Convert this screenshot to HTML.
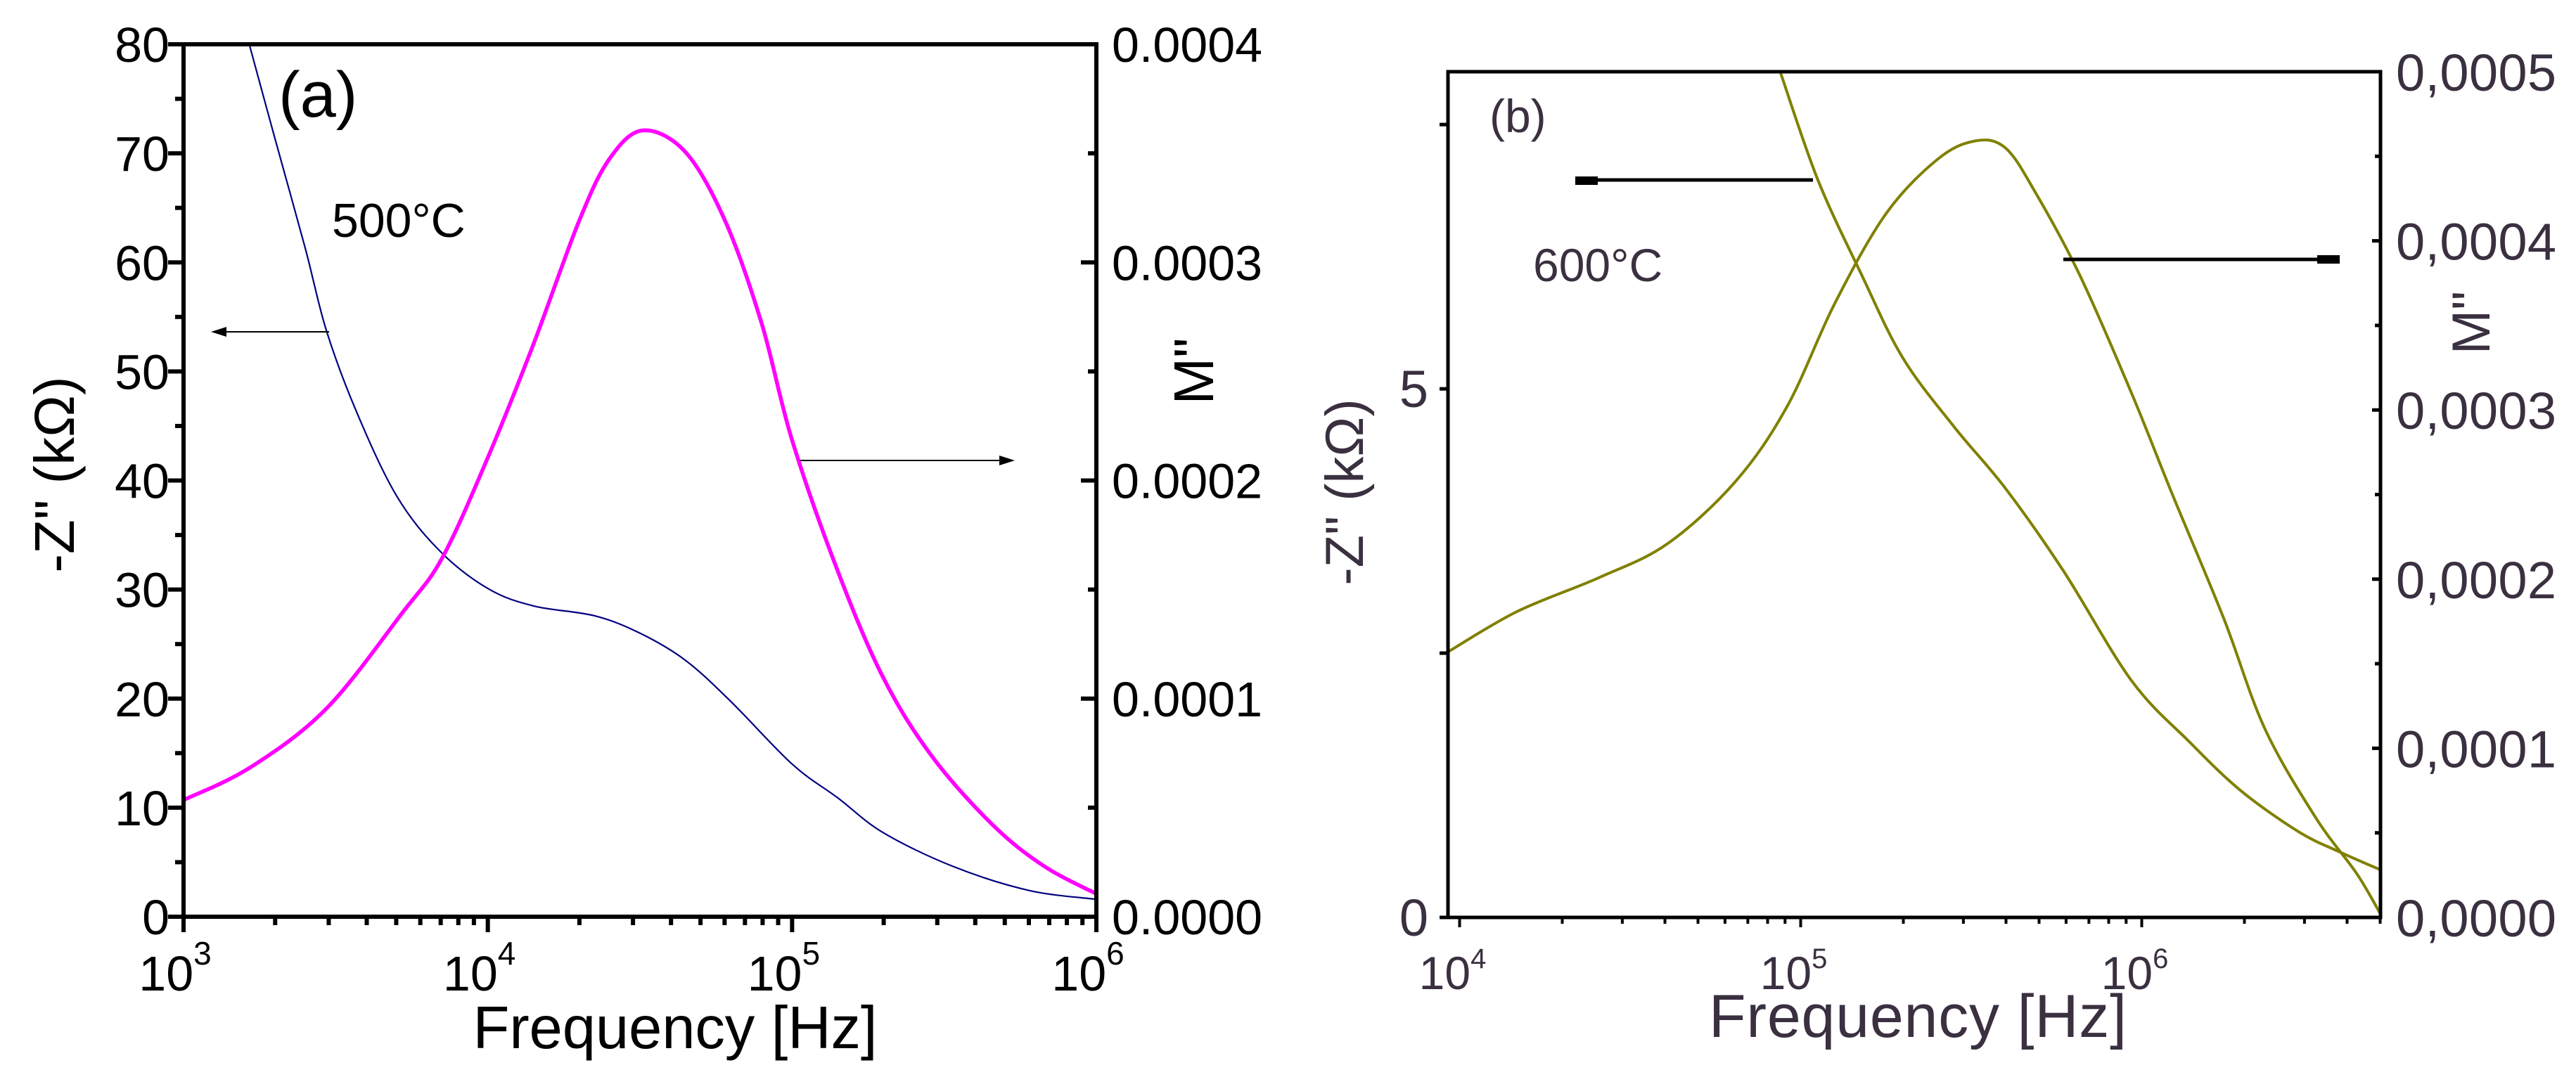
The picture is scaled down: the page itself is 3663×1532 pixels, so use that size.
<!DOCTYPE html>
<html><head><meta charset="utf-8"><style>
html,body{margin:0;padding:0;background:#fff;}
svg{display:block;font-family:"Liberation Sans",sans-serif;}
</style></head><body>
<svg id="fig" width="3663" height="1532" viewBox="0 0 3663 1532">
<g id="pa"></g>
<g id="pb"></g>
</svg>
<script>
// Panel (a) data: log10 frequency and values
const aMLogF = [3.0,3.22,3.47,3.72,3.85,4.0,4.15,4.30,4.40,4.51,4.65,4.78,4.90,5.0,5.15,5.30,5.46,5.66,5.83,6.0];
const aMVal = [0.535,0.685,0.955,1.395,1.645,2.105,2.625,3.19,3.475,3.605,3.505,3.19,2.72,2.185,1.585,1.095,0.735,0.42,0.23,0.105]; // M'' x1e-4
const aZLogF = [3.216,3.30,3.40,3.47,3.57,3.70,3.84,4.0,4.15,4.35,4.50,4.65,4.80,5.0,5.15,5.30,5.53,5.78,6.0];
const aZVal = [80,71.4,61.3,53.7,46.2,38.6,33.6,30.1,28.5,27.6,26.0,23.5,19.7,14.0,10.9,7.7,4.6,2.4,1.6]; // -Z'' kOhm
const aYTicks = [0,10,20,30,40,50,60,70,80];
const aRTicks = ["0.0000","0.0001","0.0002","0.0003","0.0004"];
const aXTicks = [3,4,5,6];
// Panel (b) data
const bMLogF = [3.966,4.17,4.41,4.61,4.81,4.96,5.10,5.25,5.40,5.51,5.60,5.69,5.82,5.97,6.09,6.24,6.36,6.51,6.63,6.70];
const bMVal = [1.57,1.81,2.01,2.21,2.58,3.02,3.63,4.16,4.48,4.59,4.55,4.28,3.79,3.10,2.50,1.77,1.12,0.59,0.26,0.02]; // x1e-4
const bZLogF = [4.94,5.05,5.18,5.30,5.45,5.60,5.77,5.97,6.14,6.29,6.46,6.58,6.70];
const bZVal = [8.0,6.98,6.07,5.29,4.64,4.06,3.28,2.24,1.66,1.20,0.81,0.62,0.45];
const bRTicks = ["0,0000","0,0001","0,0002","0,0003","0,0004","0,0005"];
const bXTicks = [4,5,6];

const NS="http://www.w3.org/2000/svg";
function mk(parent,tag,attrs,text){const e=document.createElementNS(NS,tag);for(const k in attrs)e.setAttribute(k,attrs[k]);if(text!==undefined)e.textContent=text;parent.appendChild(e);return e;}
function smooth(pts){let d="M"+pts[0][0]+","+pts[0][1];for(let i=0;i<pts.length-1;i++){const p0=pts[Math.max(0,i-1)],p1=pts[i],p2=pts[i+1],p3=pts[Math.min(pts.length-1,i+2)];const c1=[p1[0]+(p2[0]-p0[0])/6,p1[1]+(p2[1]-p0[1])/6],c2=[p2[0]-(p3[0]-p1[0])/6,p2[1]-(p3[1]-p1[1])/6];d+=" C"+c1[0]+","+c1[1]+" "+c2[0]+","+c2[1]+" "+p2[0]+","+p2[1];}return d;}

// ---------- Panel A ----------
(function(){
const g=document.getElementById('pa');
const L=261,R=1559,T=63,B=1304;
const x=v=>L+(v-3)/3*(R-L);
const y=v=>B-v/80*(B-T);
const yr=v=>B-v/4*(B-T);
let e;
// curves
e=mk(g,'path',{d:smooth(aZLogF.map((f,i)=>[x(f),y(aZVal[i])])),fill:'none',stroke:'#000080','stroke-width':2.2});


e=mk(g,'path',{d:smooth(aMLogF.map((f,i)=>[x(f),yr(aMVal[i])])),fill:'none',stroke:'#ff00ff','stroke-width':5.5});


// frame
e=mk(g,'rect',{x:L,y:T,width:R-L,height:B-T,fill:'none',stroke:'#000','stroke-width':6});


// left ticks
aYTicks.forEach(v=>{mk(g,'line',{x1:L-22,x2:L,y1:y(v),y2:y(v),stroke:'#000','stroke-width':6});
 if(v<80)mk(g,'line',{x1:L-12,x2:L,y1:y(v+5),y2:y(v+5),stroke:'#000','stroke-width':6});
 const t=mk(g,'text',{x:L-20,y:y(v)+25,'font-size':70,'text-anchor':'end'},String(v));
 
 });
// right ticks
aRTicks.forEach((s,i)=>{mk(g,'line',{x1:R-22,x2:R,y1:yr(i),y2:yr(i),stroke:'#000','stroke-width':6});
 if(i<4)mk(g,'line',{x1:R-12,x2:R,y1:yr(i+0.5),y2:yr(i+0.5),stroke:'#000','stroke-width':6});
 const t=mk(g,'text',{x:R+22,y:yr(i)+25,'font-size':70},s);
 
 });
// bottom ticks
aXTicks.forEach((p,i)=>{mk(g,'line',{x1:x(p),x2:x(p),y1:B,y2:B+22,stroke:'#000','stroke-width':6});
 if(i<aXTicks.length-1)for(let k=2;k<10;k++){const xx=x(p+Math.log10(k));mk(g,'line',{x1:xx,x2:xx,y1:B,y2:B+12,stroke:'#000','stroke-width':6});}
 const t=mk(g,'text',{x:x(p)-12,y:1409,'font-size':70,'text-anchor':'middle'});
 
 
 mk(t,'tspan',{},'10');mk(t,'tspan',{dy:-37,'font-size':46},String(p));});
e=mk(g,'text',{x:960,y:1491,'font-size':85,'text-anchor':'middle',textLength:575},'Frequency [Hz]');


e=mk(g,'text',{x:0,y:0,'font-size':80,'text-anchor':'middle',transform:'translate(105,675) rotate(-90)'},'-Z" (kΩ)');


e=mk(g,'text',{x:0,y:0,'font-size':80,'text-anchor':'middle',transform:'translate(1725,528) rotate(-90)'},'M"');


e=mk(g,'text',{x:396,y:166,'font-size':92},'(a)');


e=mk(g,'text',{x:472,y:337,'font-size':68},'500°C');


// arrows
e=mk(g,'g',{});


mk(e,'line',{x1:468,x2:318,y1:472,y2:472,stroke:'#000','stroke-width':2});
mk(e,'polygon',{points:'300,472 322,465 322,479',fill:'#000'});
e=mk(g,'g',{});


mk(e,'line',{x1:1138,x2:1425,y1:655,y2:655,stroke:'#000','stroke-width':2});
mk(e,'polygon',{points:'1443,655 1421,648 1421,662',fill:'#000'});
})();

// ---------- Panel B ----------
(function(){
const g=document.getElementById('pb');
const L=2059,R=3385,T=102,B=1305;
const lo=3.966,hi=6.70;
const x=v=>L+(v-lo)/(hi-lo)*(R-L);
const y=v=>B-v/8*(B-T);
const yr=v=>B-v/5*(B-T);
const tc='#3a3040';
let e;
e=mk(g,'path',{d:smooth(bZLogF.map((f,i)=>[x(f),y(bZVal[i])])),fill:'none',stroke:'#808000','stroke-width':4});


e=mk(g,'path',{d:smooth(bMLogF.map((f,i)=>[x(f),yr(bMVal[i])])),fill:'none',stroke:'#808000','stroke-width':4});


// white mask above top for clipping
mk(g,'rect',{x:L-10,y:0,width:R-L+20,height:T-2,fill:'#fff'});
e=mk(g,'rect',{x:L,y:T,width:R-L,height:B-T,fill:'none',stroke:'#000','stroke-width':5});


[0,2.5,5,7.5].forEach(v=>{mk(g,'line',{x1:L-12,x2:L,y1:y(v),y2:y(v),stroke:'#000','stroke-width':5});});
[0,5].forEach(v=>{const t=mk(g,'text',{x:L-28,y:y(v)+26,'font-size':74,'text-anchor':'end',fill:tc},String(v));
 
 });
bRTicks.forEach((s,i)=>{mk(g,'line',{x1:R-12,x2:R,y1:yr(i),y2:yr(i),stroke:'#000','stroke-width':5});
 if(i<5)mk(g,'line',{x1:R-8,x2:R,y1:yr(i+0.5),y2:yr(i+0.5),stroke:'#000','stroke-width':5});
 const t=mk(g,'text',{x:R+22,y:yr(i)+27,'font-size':74,fill:tc,textLength:228},s);
 
 });
for(let p=3;p<=6;p++){for(let k=1;k<10;k++){const v=p+Math.log10(k);if(v<lo||v>hi)continue;const xx=x(v);mk(g,'line',{x1:xx,x2:xx,y1:B,y2:B+(k==1?14:9),stroke:'#000','stroke-width':4});}}
bXTicks.forEach(p=>{const t=mk(g,'text',{x:x(p)-10,y:1407,'font-size':66,'text-anchor':'middle',fill:tc});
 
 
 mk(t,'tspan',{},'10');mk(t,'tspan',{dy:-30,'font-size':40},String(p));});
e=mk(g,'text',{x:2727,y:1475,'font-size':86,'text-anchor':'middle',fill:tc,textLength:594},'Frequency [Hz]');


e=mk(g,'text',{x:0,y:0,'font-size':76,'text-anchor':'middle',fill:tc,transform:'translate(1938,700) rotate(-90)'},'-Z" (kΩ)');


e=mk(g,'text',{x:0,y:0,'font-size':76,'text-anchor':'middle',fill:tc,transform:'translate(3540,459) rotate(-90)'},'M"');


e=mk(g,'text',{x:2118,y:188,'font-size':66,fill:tc},'(b)');


e=mk(g,'text',{x:2180,y:400,'font-size':66,fill:tc},'600°C');


e=mk(g,'g',{});


mk(e,'line',{x1:2578,x2:2245,y1:256,y2:256,stroke:'#000','stroke-width':5});
mk(e,'rect',{x:2240,y:251,width:32,height:12,fill:'#000'});
e=mk(g,'g',{});


mk(e,'line',{x1:2934,x2:3325,y1:369,y2:369,stroke:'#000','stroke-width':5});
mk(e,'rect',{x:3295,y:363,width:32,height:12,fill:'#000'});
})();
</script>
</body></html>
